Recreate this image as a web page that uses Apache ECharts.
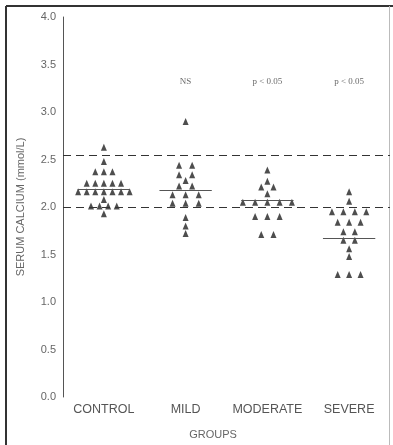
<!DOCTYPE html>
<html>
<head>
<meta charset="utf-8">
<script src="https://cdn.jsdelivr.net/npm/echarts@6/dist/echarts.min.js"></script>
<style>
html,body{margin:0;padding:0;background:#fff;}
#chart{width:393px;height:445px;}
</style>
</head>
<body>
<div id="chart"></div>
<script>
// ---- data ----
const categories = ['CONTROL', 'MILD', 'MODERATE', 'SEVERE'];
const control  = [2.63, 2.48, 2.37, 2.37, 2.37, 2.25, 2.25, 2.25, 2.25, 2.25,
                  2.16, 2.16, 2.16, 2.16, 2.16, 2.16, 2.16, 2.08, 2.01, 2.01, 2.01, 2.01, 1.93];
const mild     = [2.90, 2.44, 2.44, 2.34, 2.34, 2.28, 2.22, 2.22, 2.13, 2.13, 2.13,
                  2.04, 2.04, 2.04, 1.89, 1.80, 1.72];
const moderate = [2.39, 2.27, 2.21, 2.21, 2.14, 2.05, 2.05, 2.05, 2.05, 2.05,
                  1.90, 1.90, 1.90, 1.71, 1.71];
const severe   = [2.16, 2.06, 1.95, 1.95, 1.95, 1.95, 1.84, 1.84, 1.84, 1.74, 1.74,
                  1.65, 1.65, 1.56, 1.48, 1.29, 1.29, 1.29];
const groupMeans = [2.19, 2.18, 2.07, 1.67];
const referenceRange = [2.00, 2.55];
const significance = ['', 'NS', 'p < 0.05', 'p < 0.05'];
const annotationLevel = 3.32;
const yTickLabels = ['0.0', '0.5', '1.0', '1.5', '2.0', '2.5', '3.0', '3.5', '4.0'];

// ---- layout (dot-plot spreading of equal values) ----
const groups = [control, mild, moderate, severe];
const rowStep = [0.105, 0.16, 0.15, 0.14];
const meanHalfWidth = 0.32;

function spread(values, gi) {
  const rows = [];
  const byVal = new Map();
  values.forEach(v => {
    if (!byVal.has(v)) { byVal.set(v, []); rows.push(v); }
    byVal.get(v).push(v);
  });
  const pts = [];
  rows.forEach(v => {
    const n = byVal.get(v).length;
    for (let j = 0; j < n; j++) pts.push([gi + (j - (n - 1) / 2) * rowStep[gi], v]);
  });
  return pts;
}
const points = [];
groups.forEach((g, i) => spread(g, i).forEach(p => points.push(p)));

const meanLines = groupMeans.map((m, i) => [
  { coord: [i - meanHalfWidth, m] }, { coord: [i + meanHalfWidth, m] }
]);

const chart = echarts.init(document.getElementById('chart'), null, { renderer: 'canvas' });
const font = 'Liberation Sans, Arial, sans-serif';
chart.setOption({
  animation: false,
  backgroundColor: '#ffffff',
  grid: { left: 63, right: 3, top: 17, bottom: 44 },
  xAxis: [
    {
      type: 'category', data: categories, boundaryGap: true,
      axisLine: { show: false }, axisTick: { show: false }, splitLine: { show: false },
      axisLabel: { color: '#555', fontSize: 12.5, fontFamily: font, margin: 6, interval: 0, hideOverlap: false },
      name: 'GROUPS', nameLocation: 'middle', nameGap: 32,
      nameTextStyle: { color: '#666', fontSize: 11, fontFamily: font, padding: [0, 27, 0, 0] }
    },
    { type: 'value', min: -0.5, max: 3.5, show: false }
  ],
  yAxis: {
    type: 'value', min: 0, max: 4, interval: 0.5,
    axisLine: { show: true, onZero: false, lineStyle: { color: '#555', width: 1 } },
    axisTick: { show: false }, splitLine: { show: false },
    axisLabel: {
      color: '#666', fontSize: 11, fontFamily: font, margin: 7,
      formatter: (v) => yTickLabels[Math.round(v / 0.5)]
    },
    name: 'SERUM CALCIUM (mmol/L)', nameLocation: 'middle', nameGap: 37, nameRotate: 90,
    nameTextStyle: { color: '#666', fontSize: 11, fontFamily: font }
  },
  series: [
    {
      type: 'scatter', xAxisIndex: 1, data: points,
      symbol: 'triangle', symbolSize: [6, 7],
      itemStyle: { color: '#222' },
      markLine: {
        silent: true, symbol: 'none', label: { show: false },
        lineStyle: { color: '#333', width: 1, type: [8, 5] },
        data: referenceRange.map(v => ({ yAxis: v }))
      }
    },
    {
      type: 'scatter', xAxisIndex: 1, data: [], silent: true,
      markLine: {
        silent: true, symbol: 'none', label: { show: false },
        lineStyle: { color: '#555', width: 1, type: 'solid' },
        data: meanLines
      }
    },
    {
      type: 'scatter', xAxisIndex: 1, silent: true, symbolSize: 0,
      data: significance.map((s, i) => [i, annotationLevel, s]).filter(d => d[2]),
      label: {
        show: true, position: 'inside', formatter: (p) => p.data[2],
        color: '#444', fontSize: 9, fontFamily: 'Liberation Serif, Times New Roman, serif'
      }
    }
  ],
  graphic: [
    { type: 'line', shape: { x1: 6, y1: 6, x2: 393, y2: 6 }, style: { stroke: '#333', lineWidth: 2 } },
    { type: 'line', shape: { x1: 6, y1: 6, x2: 6, y2: 445 }, style: { stroke: '#333', lineWidth: 2 } },
    { type: 'line', shape: { x1: 389.5, y1: 6, x2: 389.5, y2: 445 }, style: { stroke: '#bbb', lineWidth: 1 } }
  ]
});
</script>
</body>
</html>
